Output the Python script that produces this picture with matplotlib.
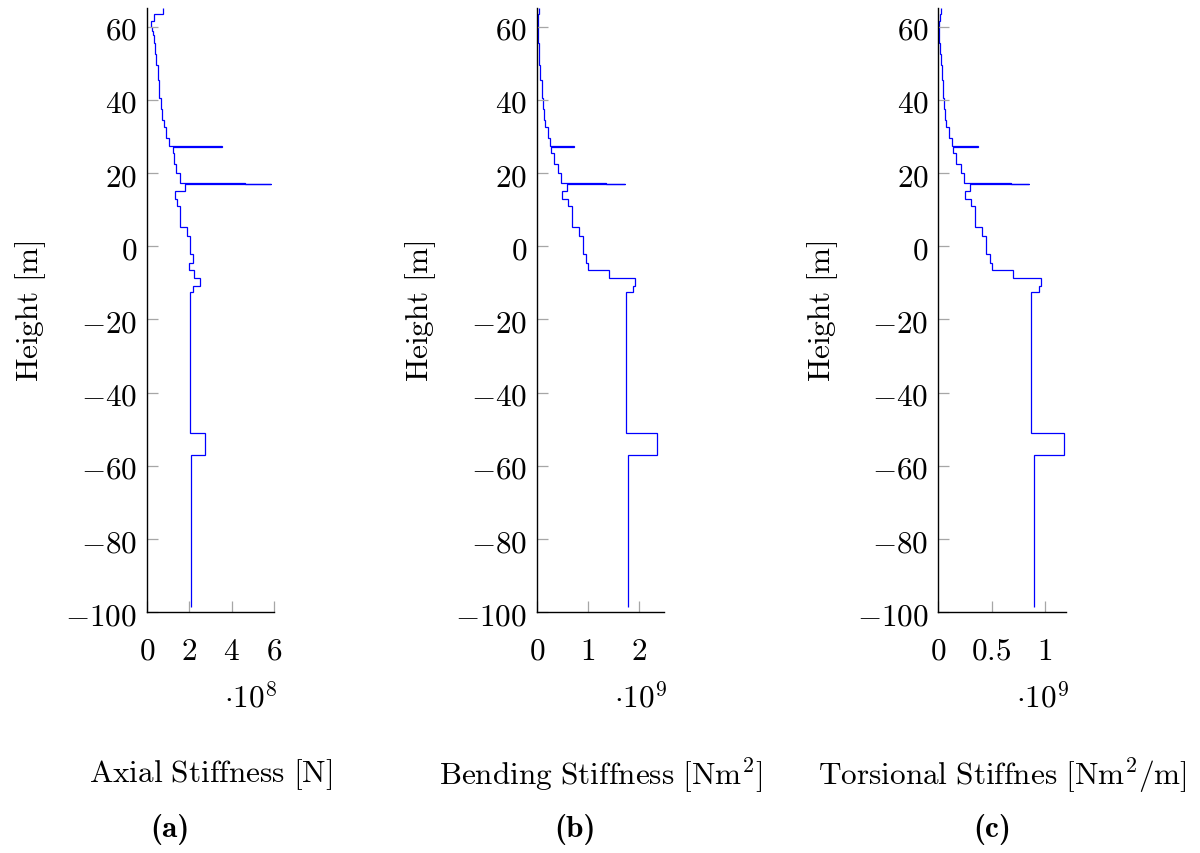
import matplotlib
matplotlib.use('Agg')
import matplotlib.pyplot as plt
from matplotlib.ticker import FuncFormatter

plt.rcParams['mathtext.fontset'] = 'cm'
plt.rcParams['font.family'] = 'DejaVu Serif'

# element boundaries along the height [m], top to bottom
heights = [65.0, 63.45, 61.6, 60.0, 58.9, 57.7, 55.45, 52.5, 49.5, 45.5, 40.45,
           37.5, 34.6, 32.5, 29.5, 27.5, 27.1, 25.5, 22.6, 20.0, 17.4, 17.1,
           17.0, 15.0, 13.0, 11.0, 5.2, 2.8, -2.0, -4.5, -6.5, -8.6, -10.9,
           -12.5, -51.0, -57.0, -98.5]

# stiffness of each element (in units of 1e8 / 1e9 as on the axes)
axial = [0.78, 0.34, 0.22, 0.25, 0.28, 0.33, 0.41, 0.45, 0.52, 0.58, 0.66,
         0.72, 0.80, 0.91, 1.06, 3.56, 1.22, 1.27, 1.38, 1.58, 4.6, 5.86,
         1.81, 1.34, 1.42, 1.56, 1.88, 2.03, 2.19, 2.0, 2.22, 2.5, 2.19,
         2.03, 2.74, 2.08]
bending = [0.052, 0.032, 0.02, 0.02, 0.02, 0.02, 0.052, 0.052, 0.071, 0.097,
           0.117, 0.136, 0.169, 0.214, 0.26, 0.734, 0.286, 0.331, 0.422, 0.48,
           1.36, 1.715, 0.598, 0.50, 0.61, 0.695, 0.83, 0.897, 0.96, 1.007,
           1.41, 1.92, 1.88, 1.74, 2.34, 1.786]
torsional = [0.022, 0.0125, 0.009, 0.009, 0.009, 0.009, 0.019, 0.022, 0.031,
             0.041, 0.053, 0.066, 0.075, 0.1, 0.125, 0.372, 0.1375, 0.1625,
             0.209, 0.2375, 0.684, 0.853, 0.297, 0.25, 0.303, 0.344, 0.4125,
             0.447, 0.484, 0.5, 0.703, 0.959, 0.944, 0.872, 1.175, 0.897]

series = [axial, bending, torsional]
exponents = [8, 9, 9]
x_ticks = [[0, 2, 4, 6], [0, 1, 2], [0, 0.5, 1]]
x_max = [6.0, 2.49, 1.197]
y_ticks = [-100, -80, -60, -40, -20, 0, 20, 40, 60]
x_labels = [r'$\mathrm{Axial\ Stiffness\ [N]}$',
            r'$\mathrm{Bending\ Stiffness\ [Nm^2]}$',
            r'$\mathrm{Torsional\ Stiffnes\ [Nm^2/m]}$']
captions = ['(a)', '(b)', '(c)']

W, H = 1200, 854
fig = plt.figure(figsize=(12, 8.54), dpi=100)

lefts = [146.7, 536.7, 938.3]
ax_w, ax_top, ax_bot = 127.6, 9.3, 613.3
caption_x = [170, 575, 992]
fs = 22.5

math_fmt = FuncFormatter(lambda v, _: f'${v:g}$')

for i in range(3):
    ax = fig.add_axes([lefts[i] / W, 1 - ax_bot / H, ax_w / W, (ax_bot - ax_top) / H])
    ax.stairs(series[i], heights, orientation='horizontal', baseline=None,
              color='blue', lw=0.9)
    ax.set_xlim(0, x_max[i])
    ax.set_ylim(-100, 65)
    ax.set_xticks(x_ticks[i])
    ax.set_yticks(y_ticks)
    ax.xaxis.set_major_formatter(math_fmt)
    ax.yaxis.set_major_formatter(math_fmt)
    for s in ['top', 'right']:
        ax.spines[s].set_visible(False)
    for s in ['left', 'bottom']:
        ax.spines[s].set_linewidth(1.0)
    ax.tick_params(axis='both', direction='in', length=7.7, width=0.9,
                   color='0.65', labelsize=fs)
    ax.tick_params(axis='x', pad=16)
    ax.tick_params(axis='y', pad=7)
    ax.set_ylabel(r'$\mathrm{Height\ [m]}$', fontsize=fs, labelpad=12)

    right = (lefts[i] + ax_w + 3) / W
    fig.text(right, 1 - 700 / H, rf'$\cdot 10^{{{exponents[i]}}}$',
             fontsize=fs, ha='right', va='center')
    fig.text((lefts[i] + ax_w / 2) / W, 1 - 775 / H, x_labels[i],
             fontsize=fs, ha='center', va='center')
    fig.text(caption_x[i] / W, 1 - 830 / H, captions[i],
             fontsize=fs, family=['cmb10', 'DejaVu Serif'],
             ha='center', va='center')

fig.savefig('out.png', dpi=100)
